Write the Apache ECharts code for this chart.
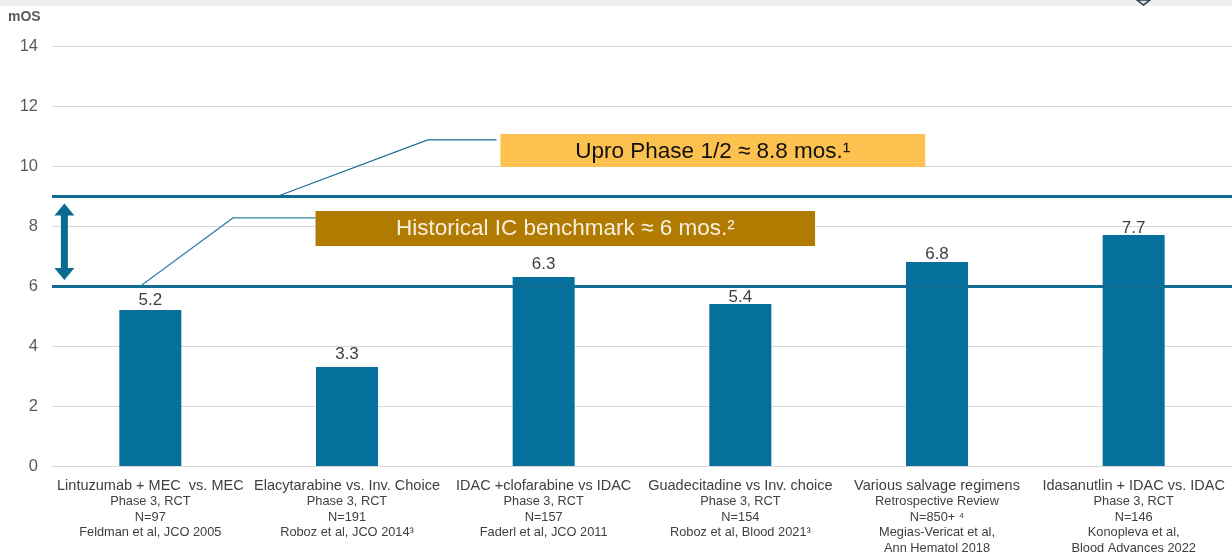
<!DOCTYPE html>
<html>
<head>
<meta charset="utf-8">
<script src="https://cdn.jsdelivr.net/npm/echarts@6/dist/echarts.min.js"></script>
<style>
  html, body { margin: 0; padding: 0; background: #ffffff; }
  #chart { width: 1232px; height: 556px; }
</style>
</head>
<body>
<div id="chart"></div>
<script>
// Regimen names (first line of each axis label)
const regimens = [
  'Lintuzumab + MEC  vs. MEC',
  'Elacytarabine vs. Inv. Choice',
  'IDAC +clofarabine vs IDAC',
  'Guadecitadine vs Inv. choice',
  'Various salvage regimens',
  'Idasanutlin + IDAC vs. IDAC'
];
// Study details under each regimen
const studyDetails = [
  ['Phase 3, RCT', 'N=97', 'Feldman et al, JCO 2005'],
  ['Phase 3, RCT', 'N=191', 'Roboz et al, JCO 2014\u00b3'],
  ['Phase 3, RCT', 'N=157', 'Faderl et al, JCO 2011'],
  ['Phase 3, RCT', 'N=154', 'Roboz et al, Blood 2021\u00b3'],
  ['Retrospective Review', 'N=850+ \u2074', 'Megias-Vericat et al,', 'Ann Hematol 2018'],
  ['Phase 3, RCT', 'N=146', 'Konopleva et al,', 'Blood Advances 2022']
];
// Median overall survival, months
const mosValues = [5.2, 3.3, 6.3, 5.4, 6.8, 7.7];
// Reference levels
const historicalBenchmark = 6;
const uproLevel = 9;
const yTicks = [0, 2, 4, 6, 8, 10, 12, 14];

const BLUE = '#05709c';
const LINE_BLUE = '#0f6c93';
const FONT = '"Liberation Sans", Arial, sans-serif';

// gap between each value label and its bar (px)
const labelGap = [2, 5, 5, -1, 0, -1];

const chart = echarts.init(document.getElementById('chart'));

const barData = mosValues.map((v, i) => ({ value: v, label: { distance: labelGap[i] } }));

const option = {
  animation: false,
  backgroundColor: '#ffffff',
  textStyle: { fontFamily: FONT },
  grid: { left: 52, right: -1, top: 46, bottom: 90, containLabel: false },
  xAxis: {
    type: 'category',
    data: regimens,
    axisLine: { show: true, lineStyle: { color: '#d9d9d9', width: 1 } },
    axisTick: { show: false },
    axisLabel: {
      interval: 0,
      margin: 11,
      lineHeight: 15.5,
      formatter: function (value, idx) {
        const lines = ['{h|' + value + '}'];
        studyDetails[idx].forEach(s => lines.push('{d|' + s + '}'));
        return lines.join('\n');
      },
      rich: {
        h: { fontSize: 14.5, color: '#404040', fontFamily: FONT, lineHeight: 17 },
        d: { fontSize: 12.8, color: '#404040', fontFamily: FONT, lineHeight: 15.5 }
      }
    }
  },
  yAxis: {
    type: 'value',
    min: 0,
    max: 14,
    interval: 2,
    axisLine: { show: false },
    axisTick: { show: false },
    splitLine: { lineStyle: { color: '#d9d9d9', width: 1 } },
    axisLabel: {
      color: '#595959',
      fontSize: 16.5,
      margin: 14,
      fontFamily: FONT,
      formatter: v => (yTicks.indexOf(v) >= 0 ? String(v) : '')
    }
  },
  series: [
    {
      // reference levels, drawn beneath the bars
      type: 'line',
      data: [],
      z: 1,
      silent: true,
      markLine: {
        silent: true,
        symbol: ['none', 'none'],
        label: { show: false },
        lineStyle: { color: LINE_BLUE, width: 3, type: 'solid' },
        data: [{ yAxis: uproLevel }, { yAxis: historicalBenchmark }]
      }
    },
    {
      type: 'bar',
      data: barData,
      z: 3,
      barWidth: 62,
      itemStyle: { color: BLUE },
      label: {
        show: true,
        position: 'top',
        lineHeight: 16,
        color: '#404040',
        fontSize: 17,
        fontFamily: FONT,
        formatter: p => Number(p.value).toFixed(1)
      }
    }
  ]
};

chart.setOption(option);

// Annotation helpers: positions in category units (0 = centre of first
// category) and axis values, converted with the chart's own scales.
function toPx(catPos, val) {
  const c0 = chart.convertToPixel({ xAxisIndex: 0 }, 0);
  const c1 = chart.convertToPixel({ xAxisIndex: 0 }, 1);
  const x = c0 + catPos * (c1 - c0);
  const y = chart.convertToPixel({ yAxisIndex: 0 }, val);
  return [x, y];
}

function boxRect(x0, x1, v0, v1) {
  const a = toPx(x0, v1);
  const b = toPx(x1, v0);
  return { x: a[0], y: a[1], width: b[0] - a[0], height: b[1] - a[1] };
}

const uproBox = boxRect(1.78, 3.94, 9.97, 11.07);
const histBox = boxRect(0.84, 3.38, 7.33, 8.5);

// double-headed arrow between the two reference levels
const arrowTop = toPx(-0.437, 8.75);
const arrowBot = toPx(-0.437, 6.2);
const ax = arrowTop[0];
const head = 12, halfHead = 10, halfShaft = 3.5;
const arrowPts = [
  [ax, arrowTop[1]],
  [ax + halfHead, arrowTop[1] + head],
  [ax + halfShaft, arrowTop[1] + head],
  [ax + halfShaft, arrowBot[1] - head],
  [ax + halfHead, arrowBot[1] - head],
  [ax, arrowBot[1]],
  [ax - halfHead, arrowBot[1] - head],
  [ax - halfShaft, arrowBot[1] - head],
  [ax - halfShaft, arrowTop[1] + head],
  [ax - halfHead, arrowTop[1] + head]
];

chart.setOption({
  graphic: [
    // header strip
    { type: 'rect', left: 0, top: 0, shape: { x: 0, y: 0, width: 1232, height: 6 },
      style: { fill: '#efefef' }, z: 0 },
    { type: 'polygon', shape: { points: [[1137, 0], [1150, 0], [1143.5, 5]] },
      style: { fill: '#dde6ea', stroke: '#2d3b45', lineWidth: 1.5 }, z: 1 },
    // axis title
    { type: 'text', left: 8, top: 10,
      style: { text: 'mOS', fill: '#595959', font: 'bold 14px ' + FONT }, z: 10 },
    // callout leader lines
    { type: 'polyline', silent: true, z: 5,
      shape: { points: [toPx(0.65, uproLevel), toPx(1.41, 10.87), toPx(1.76, 10.87)] },
      style: { stroke: '#1b6e8f', lineWidth: 1.2, fill: null } },
    { type: 'polyline', silent: true, z: 5,
      shape: { points: [toPx(-0.05, historicalBenchmark), toPx(0.42, 8.27), toPx(0.84, 8.27)] },
      style: { stroke: '#2a86a8', lineWidth: 1.2, fill: null } },
    // callout boxes
    { type: 'rect', silent: true, z: 6, shape: uproBox, style: { fill: '#fcc14f' } },
    { type: 'text', silent: true, z: 7,
      x: uproBox.x + uproBox.width / 2, y: uproBox.y + uproBox.height / 2 + 1,
      style: { text: 'Upro Phase 1/2 \u2248 8.8 mos.\u00b9', fill: '#111111',
               font: '22.5px ' + FONT, align: 'center', verticalAlign: 'middle' } },
    { type: 'rect', silent: true, z: 6, shape: histBox, style: { fill: '#b17a00' } },
    { type: 'text', silent: true, z: 7,
      x: histBox.x + histBox.width / 2, y: histBox.y + histBox.height / 2,
      style: { text: 'Historical IC benchmark \u2248 6 mos.\u00b2', fill: '#f7f0e0',
               font: '22.5px ' + FONT, align: 'center', verticalAlign: 'middle' } },
    // arrow
    { type: 'polygon', silent: true, z: 6, shape: { points: arrowPts },
      style: { fill: '#0b6a90' } }
  ]
});
</script>
</body>
</html>
